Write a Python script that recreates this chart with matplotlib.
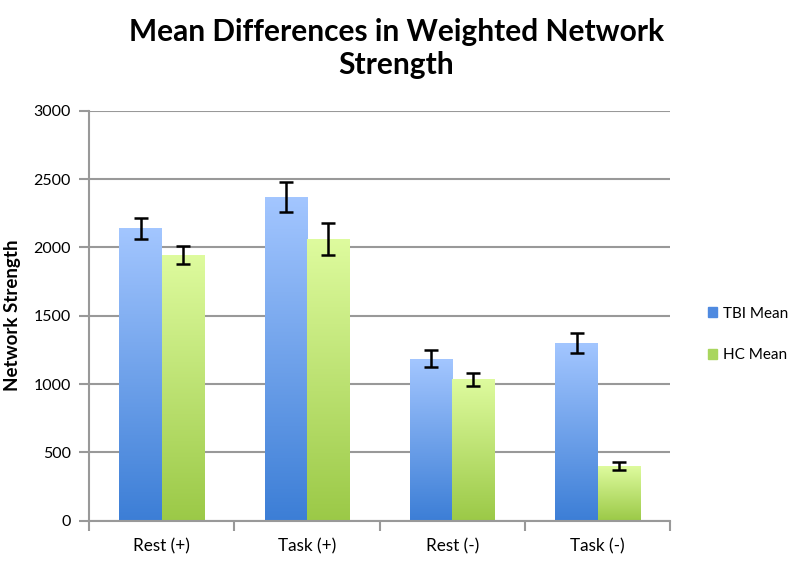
import numpy as np
import matplotlib
matplotlib.use("Agg")
import matplotlib.pyplot as plt
from matplotlib.colors import LinearSegmentedColormap

plt.rcParams['font.family'] = ['Lato', 'DejaVu Sans']

# data
categories = ["Rest (+)", "Task (+)", "Rest (-)", "Task (-)"]
tbi_mean = [2140, 2370, 1185, 1300]
tbi_err = [77, 109, 61, 71]
hc_mean = [1945, 2060, 1035, 400]
hc_err = [66, 118, 49, 28]
yticks = [0, 500, 1000, 1500, 2000, 2500, 3000]

blue_cmap = LinearSegmentedColormap.from_list("blue", ["#3c7ed6", "#a3c6ff"])
green_cmap = LinearSegmentedColormap.from_list("green", ["#9bc947", "#defb9e"])

fig = plt.figure(figsize=(7.93, 5.62), dpi=100)
ax = fig.add_axes([0.1122, 0.0735, 0.733, 0.7295])

x = np.arange(len(categories))
w = 0.29

def gradient_bars(xs, heights, cmap, zorder):
    bars = ax.bar(xs, heights, w, color="none", edgecolor="none", zorder=zorder)
    grad = np.linspace(0, 1, 256).reshape(-1, 1)
    for b in bars:
        x0, y0 = b.get_x(), b.get_y()
        im = ax.imshow(grad, cmap=cmap, origin="lower", aspect="auto",
                       extent=[x0, x0 + b.get_width(), y0, y0 + b.get_height()],
                       zorder=zorder)
        im.set_clip_path(b)
    return bars

tbi_bars = gradient_bars(x - w / 2, tbi_mean, blue_cmap, 2)
hc_bars = gradient_bars(x + w / 2, hc_mean, green_cmap, 2)

ax.errorbar(x - w / 2, tbi_mean, yerr=tbi_err, fmt="none", ecolor="black",
            elinewidth=1.8, capsize=5, capthick=1.8, zorder=4)
ax.errorbar(x + w / 2, hc_mean, yerr=hc_err, fmt="none", ecolor="black",
            elinewidth=1.8, capsize=5, capthick=1.8, zorder=4)

ax.set_xlim(-0.5, len(categories) - 0.5)
ax.set_ylim(0, 3000)
ax.set_yticks(yticks)
ax.set_yticklabels([str(t) for t in yticks], fontsize=11.5)
ax.set_xticks(x)
ax.set_xticklabels(categories, fontsize=12.3)
ax.tick_params(axis="x", length=0, pad=13)
ax.set_xticks(np.arange(len(categories) + 1) - 0.5, minor=True)
ax.tick_params(axis="x", which="minor", length=7, width=1.5, color="#999999", direction="out")
ax.tick_params(axis="y", length=7, width=1.5, color="#999999", direction="out", pad=6)

ax.grid(axis="y", color="#999999", linewidth=1.5, zorder=0)
ax.set_axisbelow(True)
for s in ["top", "right"]:
    ax.spines[s].set_visible(False)
for s in ["left", "bottom"]:
    ax.spines[s].set_color("#999999")
    ax.spines[s].set_linewidth(1.5)

ax.set_ylabel("Network Strength", fontsize=13.5, fontweight="bold", labelpad=9)

fig.text(0.5, 0.968, "Mean Differences in Weighted Network\nStrength", ha="center", va="top",
         fontsize=21.5, fontweight="bold", linespacing=1.2)

# legend
handles = [plt.Rectangle((0, 0), 1, 1, color="#4f8ae0"), plt.Rectangle((0, 0), 1, 1, color="#a9d65e")]
fig.legend(handles, ["TBI Mean", "HC Mean"], loc="center left", bbox_to_anchor=(0.875, 0.405),
           frameon=False, fontsize=11, handlelength=0.6, handleheight=0.6, handletextpad=0.4,
           labelspacing=1.8)

fig.savefig("out.png", dpi=100)
